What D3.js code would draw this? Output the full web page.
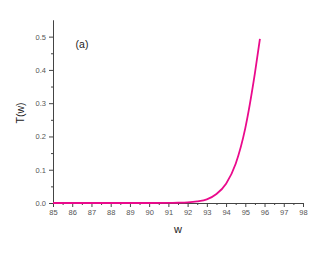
<!DOCTYPE html>
<html>
<head>
<meta charset="utf-8">
<script src="https://cdn.jsdelivr.net/npm/d3@7"></script>
<style>
  body { margin: 0; background: #fff; }
  text { font-family: "Liberation Sans", Arial, sans-serif; }
</style>
</head>
<body>
<svg id="chart" width="328" height="255"></svg>
<script>
// values
const wValues = [85, 88, 90, 91, 91.5, 92, 92.5, 93, 93.5, 94, 94.5, 95, 95.5, 95.76];
const tValues = [0, 0, 0, 0.0002, 0.0008, 0.002, 0.005, 0.011, 0.027, 0.058, 0.118, 0.225, 0.39, 0.493];
const xTicks = d3.range(85, 99);
const yTicks = [0, 0.1, 0.2, 0.3, 0.4, 0.5];

const data = wValues.map((w, i) => ({w: w, t: tValues[i]}));

const svg = d3.select("#chart");
const plotLeft = 53, plotRight = 303, plotTop = 20, plotBottom = 203;

const x = d3.scaleLinear().domain([85, 98]).range([plotLeft, plotRight]);
const y = d3.scaleLinear().domain([0, 0.55]).range([plotBottom, plotTop]);

// x axis
const xAxis = svg.append("g").attr("transform", `translate(0,${plotBottom})`);
xAxis.call(d3.axisBottom(x).tickValues(d3.range(85.5, 98, 1)).tickSize(2).tickFormat("").tickSizeOuter(0));
xAxis.call(g => g.append("g").call(d3.axisBottom(x).tickValues(xTicks).tickSize(4).tickSizeOuter(0).tickPadding(3).tickFormat(d3.format("d"))));
xAxis.selectAll("path.domain").attr("stroke", "#444");
xAxis.selectAll("line").attr("stroke", "#444");
xAxis.selectAll("text").attr("fill", "#555").style("font-size", "7.5px");

// y axis
const yAxis = svg.append("g").attr("transform", `translate(${plotLeft},0)`);
yAxis.call(d3.axisLeft(y).tickValues([0.05, 0.15, 0.25, 0.35, 0.45]).tickSize(2).tickFormat("").tickSizeOuter(0));
yAxis.call(g => g.append("g").call(d3.axisLeft(y).tickValues(yTicks).tickSize(4).tickSizeOuter(0).tickPadding(3).tickFormat(d3.format(".1f"))));
yAxis.selectAll("path.domain").attr("stroke", "#444");
yAxis.selectAll("line").attr("stroke", "#444");
yAxis.selectAll("text").attr("fill", "#555").style("font-size", "7.5px");

// curve
const line = d3.line().x(d => x(d.w)).y(d => y(d.t)).curve(d3.curveMonotoneX);
svg.append("path")
    .datum(data)
    .attr("d", line)
    .attr("fill", "none")
    .attr("stroke", "#ea0a8c")
    .attr("stroke-width", 1.8);

// labels
svg.append("text")
    .attr("x", (plotLeft + plotRight) / 2)
    .attr("y", 233)
    .attr("text-anchor", "middle")
    .attr("fill", "#222")
    .style("font-size", "11px")
    .text("w");

svg.append("text")
    .attr("transform", `translate(24,113) rotate(-90)`)
    .attr("text-anchor", "middle")
    .attr("fill", "#222")
    .style("font-size", "10.5px")
    .text("T(w)");

svg.append("text")
    .attr("x", 82)
    .attr("y", 48)
    .attr("text-anchor", "middle")
    .attr("fill", "#222")
    .style("font-size", "10.5px")
    .text("(a)");
</script>
</body>
</html>
